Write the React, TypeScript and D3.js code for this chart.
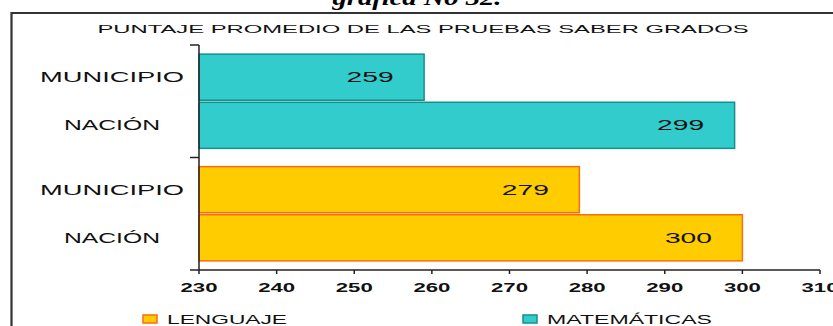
import React from "react";
import * as d3 from "d3";

const groups = ["MATEMÁTICAS", "LENGUAJE"];
const places = ["MUNICIPIO", "NACIÓN"];
const matematicas = [259, 299];
const lenguaje = [279, 300];
const xTicks = [230, 240, 250, 260, 270, 280, 290, 300, 310];
const pageTitle = "gráfica No 32.";
const chartTitle = "PUNTAJE PROMEDIO DE LAS PRUEBAS SABER GRADOS";
const legendOrder = ["LENGUAJE", "MATEMÁTICAS"];

const colors: Record<string, { fill: string; stroke: string }> = {
  "MATEMÁTICAS": { fill: "#33CCCC", stroke: "#14908F" },
  LENGUAJE: { fill: "#FFCC00", stroke: "#FF6A10" },
};

const W = 833;
const H = 326;
const font = "'Liberation Sans', Arial, sans-serif";

export default function App() {
  const x = d3.scaleLinear().domain([230, 310]).range([199, 820]);
  const yGroup = d3.scaleBand<string>().domain(groups).range([45, 270]).paddingInner(0).paddingOuter(0);
  const yInner = d3
    .scaleBand<string>()
    .domain(places)
    .range([0, yGroup.bandwidth()])
    .paddingInner(0.042)
    .paddingOuter(0.19);

  const series: Record<string, number[]> = {
    "MATEMÁTICAS": matematicas,
    LENGUAJE: lenguaje,
  };

  const axisColor = "#222";
  const y0 = yGroup.range()[1];

  return (
    <svg
      width={W}
      height={H}
      style={{ position: "absolute", left: 0, top: 0, background: "#fff" }}
    >
      <rect x={0} y={0} width={W} height={H} fill="#fff" />
      {/* page caption, cut at the top */}
      <text
        x={417}
        y={5}
        textAnchor="middle"
        fontFamily="'Liberation Serif', 'DejaVu Serif', serif"
        fontStyle="italic"
        fontWeight="bold"
        fontSize={21}
        textLength={169}
        lengthAdjust="spacingAndGlyphs"
        fill="#000"
      >
        {pageTitle}
      </text>
      {/* chart frame */}
      <path d={`M11.5,${H + 5} L11.5,13 L${W + 5},13`} fill="none" stroke="#333" strokeWidth={2.2} />

      {/* chart title */}
      <text
        x={423}
        y={33}
        textAnchor="middle"
        fontFamily={font}
        fontSize={10.5}
        textLength={651}
        lengthAdjust="spacingAndGlyphs"
        fill="#111"
      >
        {chartTitle}
      </text>

      {/* bars */}
      {groups.map((g) =>
        places.map((p, i) => {
          const v = series[g][i];
          const yTop = (yGroup(g) as number) + (yInner(p) as number);
          const h = yInner.bandwidth();
          const xEnd = x(v);
          return (
            <g key={g + p}>
              <rect
                x={x(230)}
                y={yTop}
                width={xEnd - x(230)}
                height={h}
                fill={colors[g].fill}
                stroke={colors[g].stroke}
                strokeWidth={1.5}
              />
              <text
                x={xEnd - 54}
                y={yTop + h / 2 + 5}
                textAnchor="middle"
                fontFamily={font}
                fontSize={14}
                textLength={47}
                lengthAdjust="spacingAndGlyphs"
                fill="#111"
              >
                {v}
              </text>
              <text
                x={112}
                y={yTop + h / 2 + 5}
                textAnchor="middle"
                fontFamily={font}
                fontSize={15}
                textLength={p.length * 16}
                lengthAdjust="spacingAndGlyphs"
                fill="#111"
              >
                {p}
              </text>
            </g>
          );
        })
      )}

      {/* y axis */}
      <line x1={x(230)} x2={x(230)} y1={45} y2={y0} stroke={axisColor} strokeWidth={1.5} />
      {[...groups.map((g) => yGroup(g) as number), y0].map((yy, i) => (
        <line key={i} x1={x(230) - 9} x2={x(230)} y1={yy} y2={yy} stroke={axisColor} strokeWidth={1.5} />
      ))}

      {/* x axis */}
      <line x1={x(230)} x2={x(310)} y1={y0} y2={y0} stroke={axisColor} strokeWidth={1.5} />
      {xTicks.map((t) => (
        <g key={t}>
          <line x1={x(t)} x2={x(t)} y1={y0} y2={y0 + 4} stroke={axisColor} strokeWidth={1.5} />
          <text
            x={x(t)}
            y={292}
            textAnchor="middle"
            fontFamily={font}
            fontSize={13}
            fontWeight="bold"
            textLength={37}
            lengthAdjust="spacingAndGlyphs"
            fill="#111"
          >
            {t}
          </text>
        </g>
      ))}

      {/* legend */}
      {legendOrder.map((g, i) => {
        const lx = i === 0 ? 143 : 523;
        return (
          <g key={g}>
            <rect x={lx} y={315} width={14} height={8} fill={colors[g].fill} stroke={colors[g].stroke} strokeWidth={1.5} />
            <text
              x={lx + 24}
              y={323.5}
              fontFamily={font}
              fontSize={12.5}
              textLength={g.length * 15}
              lengthAdjust="spacingAndGlyphs"
              fill="#111"
            >
              {g}
            </text>
          </g>
        );
      })}
    </svg>
  );
}
